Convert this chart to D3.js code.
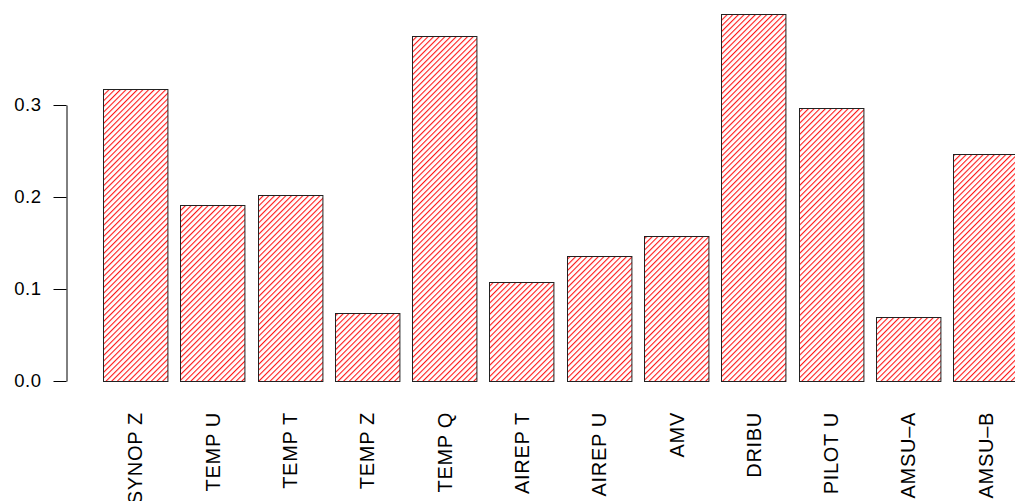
<!DOCTYPE html>
<html>
<head>
<meta charset="utf-8">
<script src="https://cdn.jsdelivr.net/npm/d3@7"></script>
<style>
  html, body { margin: 0; padding: 0; background: #fff; overflow: hidden; }
  svg { display: block; }
  text { font-family: "Liberation Sans", Arial, Helvetica, sans-serif; fill: #000; }
</style>
</head>
<body>
<svg id="chart" width="1015" height="501"></svg>
<script>
const categories = ["SYNOP Z", "TEMP U", "TEMP T", "TEMP Z", "TEMP Q", "AIREP T",
                    "AIREP U", "AMV", "DRIBU", "PILOT U", "AMSU\u2013A", "AMSU\u2013B"];
const values = [0.3174, 0.1916, 0.2018, 0.0743, 0.3754, 0.1072,
                0.1362, 0.1572, 0.3990, 0.2964, 0.0692, 0.2464];
const yTicks = [0.0, 0.1, 0.2, 0.3];

const svg = d3.select("#chart");

const defs = svg.append("defs");
const pat = defs.append("pattern")
  .attr("id", "hatch")
  .attr("patternUnits", "userSpaceOnUse")
  .attr("width", 4)
  .attr("height", 20)
  .attr("patternTransform", "rotate(45)");
pat.append("line")
  .attr("x1", 0.6).attr("y1", 0).attr("x2", 0.6).attr("y2", 20)
  .attr("stroke", "#ff0000").attr("stroke-width", 1);

const x = d3.scaleBand()
  .domain(categories)
  .range([103, 1017.7])
  .paddingInner(1 / 6)
  .paddingOuter(0);

const y = d3.scaleLinear()
  .domain([0, 0.3])
  .range([381, 105]);

// bars
svg.append("g").selectAll("rect")
  .data(values)
  .join("rect")
  .attr("x", (d, i) => Math.round(x(categories[i])) + 0.5)
  .attr("y", d => Math.round(y(d)) + 0.5)
  .attr("width", x.bandwidth())
  .attr("height", d => Math.round(y(0)) - Math.round(y(d)))
  .attr("fill", "url(#hatch)")
  .attr("stroke", "#222")
  .attr("stroke-width", 1);

// y axis
const yAxis = d3.axisLeft(y)
  .tickValues(yTicks)
  .tickFormat(d3.format(".1f"))
  .tickSize(13)
  .tickSizeOuter(0)
  .tickPadding(12);

const gy = svg.append("g")
  .attr("transform", "translate(66.5,0)")
  .call(yAxis);
gy.select(".domain").attr("stroke", "#000");
gy.selectAll(".tick line").attr("stroke", "#000");
gy.selectAll(".tick text")
  .attr("font-size", 18.5)
  .attr("letter-spacing", "0.5px")
  .attr("font-family", "Liberation Sans, Arial, sans-serif")
  .attr("fill", "#000");

// x labels (rotated)
svg.append("g").selectAll("text")
  .data(categories)
  .join("text")
  .attr("transform", d => `translate(${x(d) + x.bandwidth() / 2},412) rotate(-90)`)
  .attr("text-anchor", "end")
  .attr("dy", "0.36em")
  .attr("font-size", 20)
  .attr("letter-spacing", "0.7px")
  .text(d => d);
</script>
</body>
</html>
